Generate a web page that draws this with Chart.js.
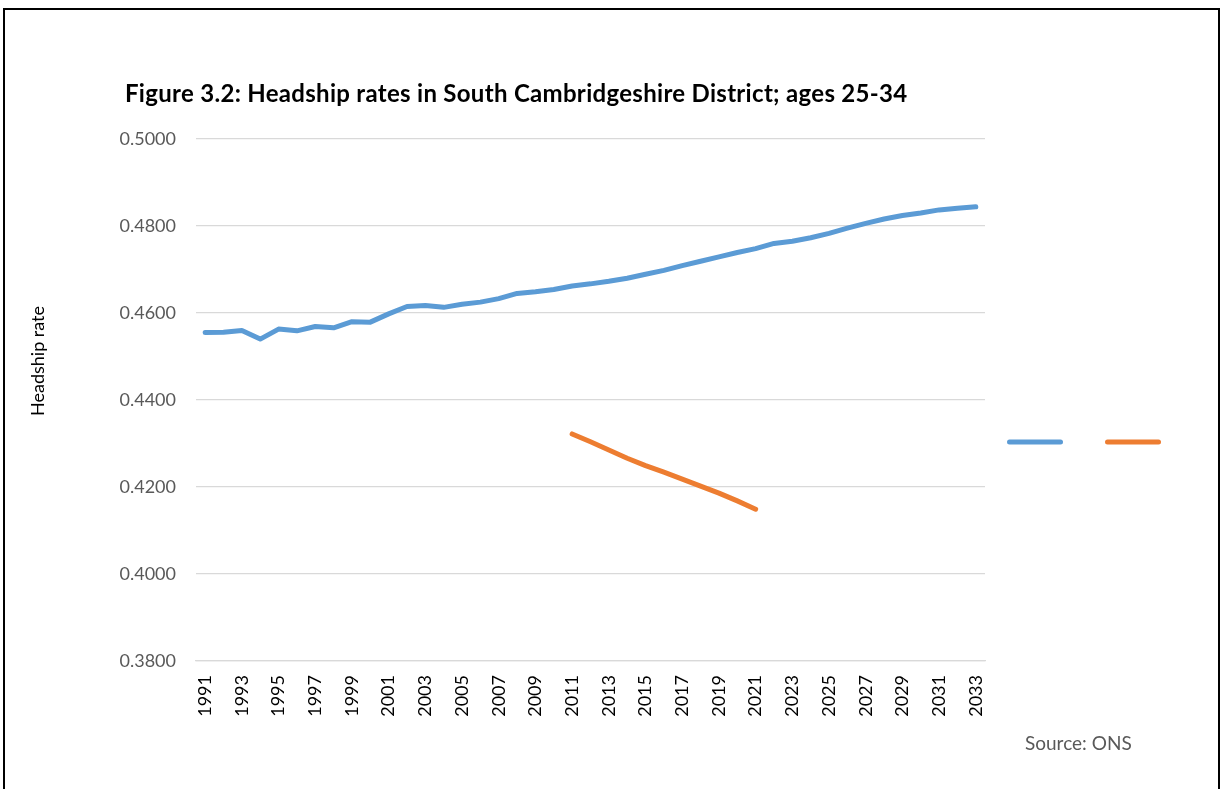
<!DOCTYPE html>
<html>
<head>
<meta charset="utf-8">
<script src="https://cdn.jsdelivr.net/npm/chart.js@4.4.1/dist/chart.umd.min.js"></script>
<style>
  body { margin: 0; background: #fff; }
  #wrap { position: relative; width: 1226px; height: 789px; overflow: hidden; font-family: Lato, 'Open Sans', sans-serif; }
  #frame { position: absolute; left: 3px; top: 8px; width: 1213px; height: 800px; border: 2px solid #000; }
  #title { position: absolute; left: 125px; top: 79px; font-weight: bold; font-size: 24px; letter-spacing: 0.3px; line-height: 28px; color: #000; white-space: nowrap; }
  #ytitle { position: absolute; left: 37px; top: 361px; font-size: 18px; color: #000; white-space: nowrap; transform: translate(-50%, -50%) rotate(-90deg); }
  #source { position: absolute; left: 1025px; top: 730px; font-size: 19px; line-height: 26px; color: #595959; white-space: nowrap; }
  canvas { position: absolute; left: 0; top: 0; }
</style>
</head>
<body>
<div id="wrap">
  <div id="frame"></div>
  <canvas id="headship" width="1226" height="789"></canvas>
  <div id="title">Figure 3.2: Headship rates in South Cambridgeshire District; ages 25-34</div>
  <div id="ytitle">Headship rate</div>
  <div id="source">Source: ONS</div>
</div>
<script>
// categories (years)
const years = [
  '1991','1992','1993','1994','1995','1996','1997','1998','1999','2000',
  '2001','2002','2003','2004','2005','2006','2007','2008','2009','2010',
  '2011','2012','2013','2014','2015','2016','2017','2018','2019','2020',
  '2021','2022','2023','2024','2025','2026','2027','2028','2029','2030',
  '2031','2032','2033'
];
// blue series, 1991-2033
const series1 = [
  0.4555, 0.4556, 0.4560, 0.4540, 0.4563, 0.4559, 0.4569, 0.4566, 0.4580, 0.4579,
  0.4598, 0.4615, 0.4617, 0.4613, 0.4620, 0.4625, 0.4633, 0.4645, 0.4649, 0.4654,
  0.4662, 0.4667, 0.4673, 0.4680, 0.4689, 0.4698, 0.4709, 0.4719, 0.4729, 0.4739,
  0.4748, 0.4760, 0.4765, 0.4773, 0.4783, 0.4795, 0.4806, 0.4816, 0.4824, 0.4830,
  0.4837, 0.4841, 0.4844
];
// orange series, only 2011-2021
const series2 = [
  null, null, null, null, null, null, null, null, null, null,
  null, null, null, null, null, null, null, null, null, null,
  0.4322, 0.4304, 0.4285, 0.4266, 0.4249, 0.4234, 0.4218, 0.4202, 0.4186, 0.4168,
  0.4149, null, null, null, null, null, null, null, null, null,
  null, null, null
];
const yTicks = [0.38, 0.40, 0.42, 0.44, 0.46, 0.48, 0.50];

const tickFont = { family: 'Lato', size: 18 };

// legend in the picture has only line samples, side by side, no text
const legendLines = {
  id: 'legendLines',
  afterDraw(chart) {
    const { ctx, chartArea } = chart;
    const y = (chartArea.top + chartArea.bottom) / 2 + 42;
    let x = chartArea.right + 22;
    chart.data.datasets.forEach(ds => {
      ctx.save();
      ctx.strokeStyle = ds.borderColor;
      ctx.lineWidth = 5;
      ctx.lineCap = 'round';
      ctx.beginPath();
      ctx.moveTo(x + 2.5, y);
      ctx.lineTo(x + 53.5, y);
      ctx.stroke();
      ctx.restore();
      x += 98;
    });
  }
};

new Chart(document.getElementById('headship').getContext('2d'), {
  type: 'line',
  data: {
    labels: years,
    datasets: [
      { label: 'Series1', data: series1, borderColor: '#5B9BD5', backgroundColor: '#5B9BD5',
        borderWidth: 5, pointRadius: 0, tension: 0, borderCapStyle: 'round', borderJoinStyle: 'round' },
      { label: 'Series2', data: series2, borderColor: '#ED7D31', backgroundColor: '#ED7D31',
        borderWidth: 5, pointRadius: 0, tension: 0, borderCapStyle: 'round', borderJoinStyle: 'round' }
    ]
  },
  options: {
    responsive: false,
    animation: false,
    layout: { padding: { left: 0, right: 241, top: 139, bottom: 0 } },
    plugins: {
      legend: { display: false },
      tooltip: { enabled: false }
    },
    scales: {
      x: {
        offset: true,
        grid: { display: false, drawTicks: false },
        border: { display: true, color: '#d9d9d9', width: 1.3 },
        ticks: {
          autoSkip: false,
          minRotation: 90,
          maxRotation: 90,
          padding: 14,
          color: '#000',
          font: tickFont,
          callback: function (v, i) { return i % 2 === 0 ? years[i] : ''; }
        },
        afterFit: s => { s.height = 128; }
      },
      y: {
        min: 0.38,
        max: 0.50,
        afterBuildTicks: s => { s.ticks = yTicks.map(v => ({ value: v })); },
        grid: { color: '#d9d9d9', lineWidth: 1.3, drawTicks: false },
        border: { display: false },
        ticks: {
          padding: 20,
          color: '#595959',
          font: tickFont,
          callback: v => Number(v).toFixed(4)
        },
        afterFit: s => { s.width = 196; }
      }
    }
  },
  plugins: [legendLines]
});
</script>
</body>
</html>
